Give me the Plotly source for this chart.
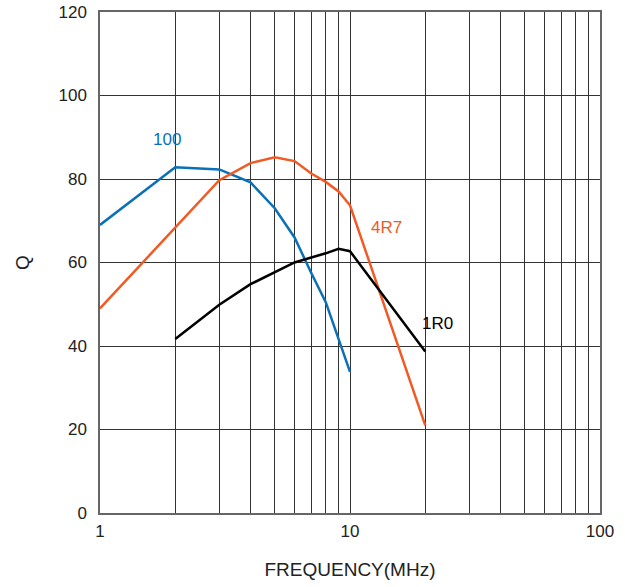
import plotly.graph_objects as go

freq_100 = [1, 2, 3, 4, 5, 6, 7, 8, 10]
q_100 = [69, 82.8, 82.3, 79.2, 73, 66, 57.5, 50.5, 33.8]

freq_4r7 = [1, 2, 3, 4, 5, 6, 7, 8, 9, 10, 20]
q_4r7 = [49, 68.4, 79.7, 83.8, 85.2, 84.3, 81.3, 79.3, 77, 73.7, 21]

freq_1r0 = [2, 3, 4, 5, 6, 7, 8, 9, 10, 20]
q_1r0 = [41.7, 49.9, 54.8, 57.6, 60, 61.2, 62.2, 63.3, 62.7, 38.7]

x_tickvals = [1, 10, 100]
y_tickvals = [0, 20, 40, 60, 80, 100, 120]

BLUE = "#0a70b8"
ORANGE = "#f15a24"
BLACK = "#000000"

fig = go.Figure()
fig.add_trace(go.Scatter(x=freq_100, y=q_100, mode="lines", line=dict(color=BLUE, width=2.5), name="100"))
fig.add_trace(go.Scatter(x=freq_4r7, y=q_4r7, mode="lines", line=dict(color=ORANGE, width=2.5), name="4R7"))
fig.add_trace(go.Scatter(x=freq_1r0, y=q_1r0, mode="lines", line=dict(color=BLACK, width=2.5), name="1R0"))

font = "Liberation Sans, Arial, sans-serif"
fig.add_annotation(x=0.268, y=89.5, xref="x", yref="y", text="100", showarrow=False,
                   font=dict(color=BLUE, size=17, family=font))
fig.add_annotation(x=1.145, y=68.5, xref="x", yref="y", text="4R7", showarrow=False,
                   font=dict(color=ORANGE, size=17, family=font))
fig.add_annotation(x=1.35, y=45.3, xref="x", yref="y", text="1R0", showarrow=False,
                   font=dict(color=BLACK, size=17, family=font))

fig.update_layout(
    width=625, height=587,
    margin=dict(l=100, r=25, t=12, b=74),
    plot_bgcolor="white", paper_bgcolor="white",
    showlegend=False,
    font=dict(family=font, size=17, color="#222222"),
)
fig.update_xaxes(
    type="log", range=[0, 2], automargin=False,
    tickvals=x_tickvals, ticktext=[str(v) for v in x_tickvals],
    showgrid=True, gridcolor="#333333", gridwidth=1,
    minor=dict(showgrid=True, gridcolor="#333333", gridwidth=1, dtick="D1"),
    showline=True, linecolor="#666666", linewidth=2, mirror=True,
    ticks="", ticklabelstandoff=2, ticklabeloverflow="allow",
    zeroline=False,
    title=dict(text="FREQUENCY(MHz)", font=dict(size=19, family=font, color="#222222"), standoff=22),
)
fig.update_yaxes(
    range=[0, 120], tickvals=y_tickvals, automargin=False,
    showgrid=True, gridcolor="#333333", gridwidth=1,
    showline=True, linecolor="#666666", linewidth=1.5, mirror=True,
    ticks="", ticklabelstandoff=8, ticklabeloverflow="allow",
    zeroline=False,
    title=dict(text="Q", font=dict(size=19, family=font, color="#222222"), standoff=24),
)

fig.write_html("out.html", config={"displayModeBar": False},
               post_script="document.body.style.margin='0';")
